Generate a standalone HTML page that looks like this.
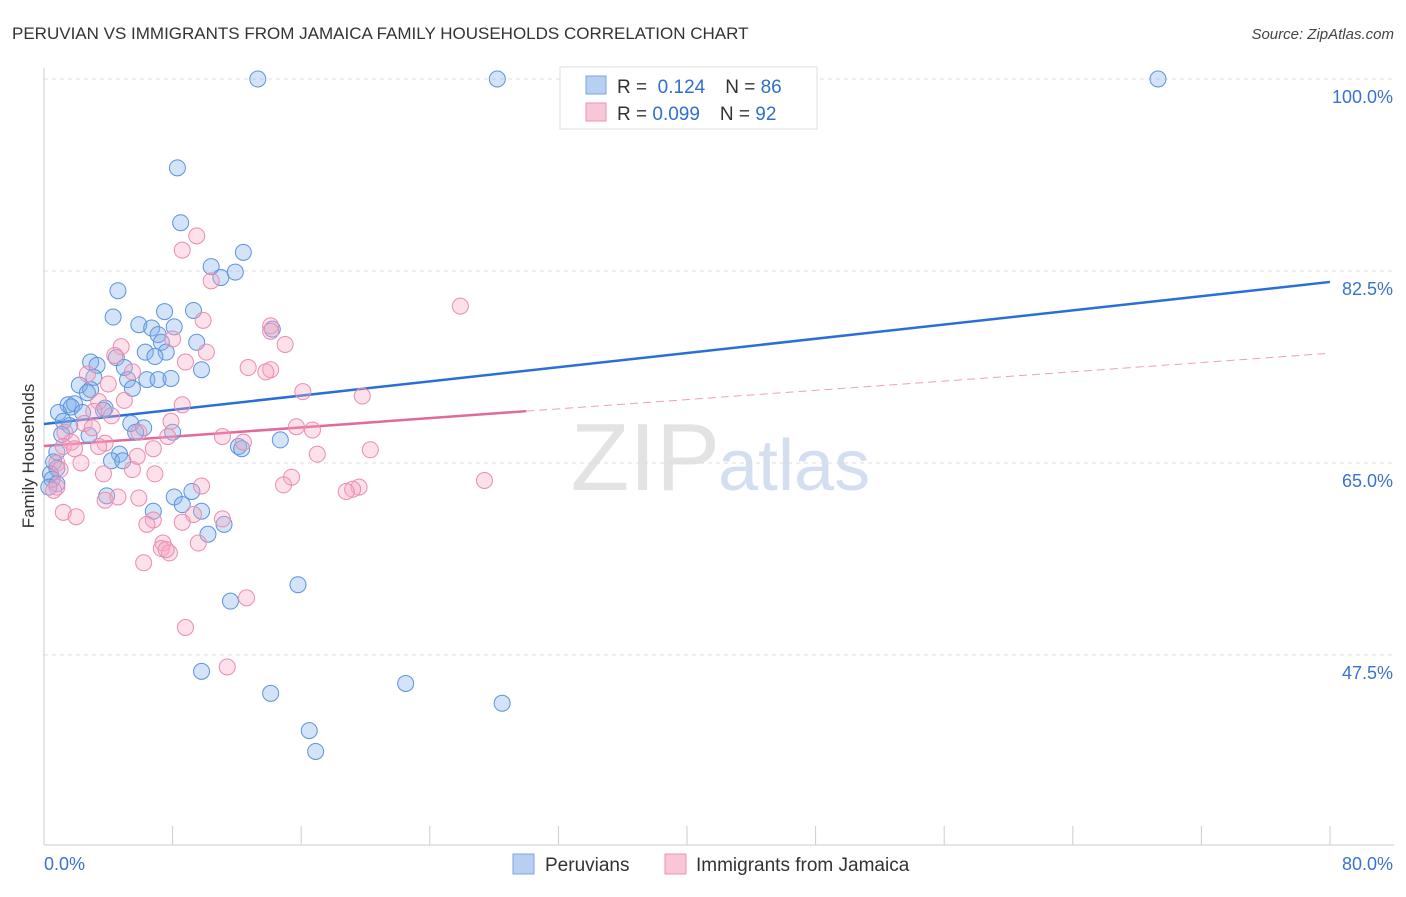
<!DOCTYPE html>
<html><head><meta charset="utf-8"><style>
body{margin:0;background:#fff;font-family:"Liberation Sans",sans-serif;}
svg text{font-family:"Liberation Sans",sans-serif;}
</style></head><body>
<svg id="chart" width="1406" height="892" viewBox="0 0 1406 892" xmlns="http://www.w3.org/2000/svg">
<text x="12" y="39" font-size="17" fill="#333">PERUVIAN VS IMMIGRANTS FROM JAMAICA FAMILY HOUSEHOLDS CORRELATION CHART</text>
<text x="1394" y="39" font-size="15" fill="#444" text-anchor="end" font-style="italic">Source: ZipAtlas.com</text>
<text x="720" y="490" font-size="96" fill="#ddd" text-anchor="end" font-family="Liberation Serif" opacity="0.8">ZIP</text>
<text x="718" y="490" font-size="72" fill="#c9d8ee" opacity="0.8">atlas</text>
<g id="grid"></g>
<g id="axes"></g>
<g id="trends"></g>
<g id="points"></g>
<text transform="translate(34,456) rotate(-90)" font-size="17" fill="#333" text-anchor="middle">Family Households</text>
<g>
<rect x="560" y="67" width="257" height="62" fill="#fff" stroke="#ddd"/>
<rect x="586" y="76" width="20" height="18" fill="#b7d0f2" stroke="#7aa4dd"/>
<text x="617" y="93" font-size="19" fill="#333">R = <tspan fill="#2f6fd0">&#160;0.124</tspan><tspan dx="20">N = </tspan><tspan fill="#2f6fd0">86</tspan></text>
<rect x="586" y="103" width="20" height="18" fill="#f8c6d6" stroke="#ec93b1"/>
<text x="617" y="120" font-size="19" fill="#333">R = <tspan fill="#2f6fd0">0.099</tspan><tspan dx="20">N = </tspan><tspan fill="#2f6fd0">92</tspan></text>
</g>
<g>
<rect x="513" y="854" width="21" height="20" fill="#b7d0f2" stroke="#7aa4dd"/>
<text x="545" y="871" font-size="19" fill="#333">Peruvians</text>
<rect x="665" y="854" width="21" height="20" fill="#f8c6d6" stroke="#ec93b1"/>
<text x="696" y="871" font-size="19" fill="#333">Immigrants from Jamaica</text>
</g>
</svg>
<script>
const blueX=[13.3,28.2,69.3,8.3,8.5,12.4,10.4,11.9,11.0,4.6,7.5,9.3,4.3,5.9,6.7,8.1,7.1,14.2,7.3,9.5,6.3,7.6,6.9,4.5,2.9,3.3,5.0,9.8,3.1,5.2,6.4,7.1,7.9,2.2,5.5,2.9,2.7,1.5,1.9,1.7,0.9,3.8,2.4,3.7,1.2,5.4,6.2,1.6,1.1,2.8,5.7,8.0,14.7,12.1,12.3,0.8,4.7,4.2,4.9,0.6,0.8,0.4,0.5,0.8,0.3,9.2,3.9,8.1,8.6,9.8,6.8,11.2,10.2,15.8,11.6,9.8,22.5,14.1,28.5,16.5,16.9];
const blueY=[100,100,100,91.9,86.9,84.2,82.9,82.4,81.9,80.7,78.8,78.9,78.3,77.6,77.3,77.4,76.7,77.2,76.0,76.0,75.1,75.1,74.7,74.6,74.2,73.9,73.7,73.5,72.8,72.6,72.6,72.6,72.7,72.1,71.8,71.7,71.4,70.3,70.4,70.1,69.6,70.0,69.6,69.8,68.8,68.6,68.2,68.4,67.6,67.5,67.8,67.8,67.1,66.5,66.3,66.0,65.8,65.2,65.2,65.1,64.5,64.0,63.5,63.1,62.8,62.4,62.0,61.9,61.2,60.6,60.6,59.4,58.5,53.9,52.4,46.0,44.9,44.0,43.1,40.6,38.7];
const pinkX=[9.5,8.6,10.4,25.9,9.9,14.1,14.1,15.0,8.0,10.1,4.8,4.4,8.8,12.7,14.1,13.8,5.5,2.7,4.0,16.1,19.8,5.0,3.4,8.6,3.1,4.2,7.9,15.7,16.7,2.5,3.0,1.3,5.9,11.1,7.7,12.4,3.8,1.7,3.4,1.2,1.9,6.8,20.3,17.0,5.8,2.3,0.8,5.5,1.0,3.7,6.9,15.4,27.4,14.9,0.8,9.8,19.6,19.2,18.8,0.6,3.8,4.6,5.9,1.2,9.3,2.0,8.6,6.8,11.1,6.4,9.6,7.4,7.3,7.8,7.6,6.2,12.6,8.8,11.4];
const pinkY=[85.7,84.4,81.6,79.3,78.0,77.5,77.0,75.8,76.3,75.1,75.6,74.8,74.2,73.7,73.5,73.3,73.3,73.1,72.2,71.5,71.1,70.7,70.6,70.3,69.7,69.3,68.8,68.3,68.0,68.6,68.2,67.8,67.8,67.4,67.4,66.9,66.8,66.9,66.5,66.5,66.3,66.3,66.2,65.8,65.6,65.0,65.0,64.4,64.4,64.0,64.0,63.7,63.4,63.0,62.8,62.9,62.8,62.6,62.4,62.5,61.6,61.9,61.8,60.5,60.3,60.1,59.6,59.8,59.9,59.4,57.7,57.7,57.2,56.8,57.1,55.9,52.7,50.0,46.4];
const blueTrend=[68.55,81.5];
const pinkTrend=[66.55,75.0];
const pinkSolidEnd=30;
const yTicks=[100,82.5,65,47.5];
const yTickLabels=["100.0%","82.5%","65.0%","47.5%"];
const xTickVals=[0,8,16,24,32,40,48,56,64,72,80];
const xLabels=["0.0%","80.0%"];

const NS="http://www.w3.org/2000/svg";
const X=v=>44+v*(1286/80);
const Y=v=>79+(100-v)*10.97;
function mk(tag,attrs,parent){const e=document.createElementNS(NS,tag);for(const k in attrs)e.setAttribute(k,attrs[k]);parent.appendChild(e);return e;}
const grid=document.getElementById('grid'),axes=document.getElementById('axes'),tr=document.getElementById('trends'),pts=document.getElementById('points');
yTicks.forEach((t,i)=>{
 const l=mk('line',{x1:44,x2:1394,y1:Y(t),y2:Y(t),stroke:'#ddd','stroke-dasharray':'4,4'},grid);
 
 
 const tx=mk('text',{x:1393,y:Y(t)+24,'font-size':18,fill:'#3a72d0','text-anchor':'end'},axes);
 tx.textContent=yTickLabels[i];
 
 
});
const yAx=mk('line',{x1:44,x2:44,y1:68,y2:845,stroke:'#ccc'},axes);


const xAx=mk('line',{x1:44,x2:1394,y1:845,y2:845,stroke:'#ccc'},axes);


xTickVals.forEach(v=>{
 const t=mk('line',{x1:X(v),x2:X(v),y1:826,y2:845,stroke:'#ccc'},axes);
 
 
});
const xl0=mk('text',{x:44,y:870,'font-size':18,fill:'#3a72d0'},axes);
xl0.textContent=xLabels[0];


const xl1=mk('text',{x:1393,y:870,'font-size':18,fill:'#3a72d0','text-anchor':'end'},axes);
xl1.textContent=xLabels[1];



blueX.forEach((x,i)=>{
 const c=mk('circle',{cx:X(x),cy:Y(blueY[i]),r:8,fill:'rgba(130,175,235,0.35)',stroke:'#5b93dd','stroke-width':1},pts);
 
 
});
pinkX.forEach((x,i)=>{
 const c=mk('circle',{cx:X(x),cy:Y(pinkY[i]),r:8,fill:'rgba(245,170,195,0.35)',stroke:'#ea8cae','stroke-width':1},pts);
 
 
});
const bl=mk('line',{x1:X(0),y1:Y(blueTrend[0]),x2:X(80),y2:Y(blueTrend[1]),stroke:'#2a6fd6','stroke-width':2.5},tr);


const pm=pinkTrend[0]+(pinkTrend[1]-pinkTrend[0])*pinkSolidEnd/80;
const pl=mk('line',{x1:X(0),y1:Y(pinkTrend[0]),x2:X(pinkSolidEnd),y2:Y(pm),stroke:'#e4689a','stroke-width':2.5},tr);


const pd=mk('line',{x1:X(pinkSolidEnd),y1:Y(pm),x2:X(80),y2:Y(pinkTrend[1]),stroke:'#e9a0bb','stroke-width':1,'stroke-dasharray':'8,5'},tr);


</script>
</body></html>
